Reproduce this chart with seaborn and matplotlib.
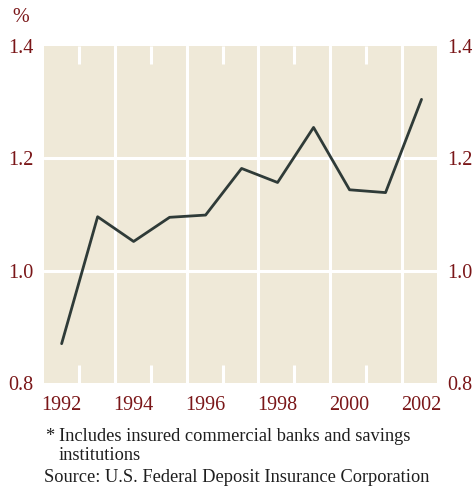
import matplotlib
matplotlib.use("Agg")
import matplotlib.pyplot as plt
import seaborn as sns
import pandas as pd
from matplotlib.ticker import FixedLocator

years = [1992, 1993, 1994, 1995, 1996, 1997, 1998, 1999, 2000, 2001, 2002]
values = [0.870, 1.096, 1.052, 1.095, 1.099, 1.182, 1.157, 1.255, 1.144, 1.139, 1.305]
year_labels = ["1992", "1994", "1996", "1998", "2000", "2002"]
y_ticks = [0.8, 1.0, 1.2, 1.4]
y_tick_labels = ["0.8", "1.0", "1.2", "1.4"]
footnote_mark = "*"
footnote = "Includes insured commercial banks and savings\ninstitutions"
source = "Source: U.S. Federal Deposit Insurance Corporation"

sns.set_style("white")
plt.rcParams["font.family"] = ["Liberation Serif", "DejaVu Serif"]

RED = "#7a1618"
BG = "#efe9d8"
LINE = "#2f3b38"
TXT = "#1e1e1e"

df = pd.DataFrame({"year": years, "value": values})

fig = plt.figure(figsize=(4.74, 4.87), dpi=100)
ax = fig.add_axes([44 / 474, 1 - 383 / 487, (437 - 44) / 474, (383 - 46) / 487])
ax.set_facecolor(BG)

# white grid structure
for v in [1.0, 1.2]:
    ax.axhline(v, color="white", lw=2.2, zorder=1)
for x in [1993.47, 1995.47, 1997.47, 1999.47, 2001.47]:
    ax.axvline(x, color="white", lw=2.2, zorder=1)

sns.lineplot(data=df, x="year", y="value", ax=ax, color=LINE, lw=2.0, zorder=3)

ax.set_xlim(1991.51, 2002.43)
ax.set_ylim(0.8, 1.4)
ax.set_xlabel("")
ax.set_ylabel("")

ax.xaxis.set_major_locator(FixedLocator([int(y) for y in year_labels]))
ax.set_xticklabels(year_labels)
ax.xaxis.set_minor_locator(FixedLocator([1992.47, 1994.47, 1996.47, 1998.47, 2000.47]))
ax.tick_params(axis="x", which="major", length=0, pad=9, labelsize=14.5, labelcolor=RED)
ax.tick_params(axis="x", which="minor", direction="in", length=13, width=2.2,
               color="white", top=True, bottom=True)

ax.set_yticks(y_ticks)
ax.set_yticklabels(y_tick_labels)
ax.tick_params(axis="y", which="major", length=0, pad=7.5, labelsize=14.5, labelcolor=RED,
               left=True, right=True, labelleft=True, labelright=True)

for s in ax.spines.values():
    s.set_visible(False)

fig.text(21 / 474, 1 - 17 / 487, "%", color=RED, fontsize=14.5, ha="center", va="center")
fig.text(45 / 474, 1 - 428 / 487, footnote_mark, color=TXT, fontsize=13.2,
         ha="left", va="top")
fig.text(59 / 474, 1 - 428 / 487, footnote, color=TXT, fontsize=13.2,
         ha="left", va="top", linespacing=1.13)
fig.text(44 / 474, 1 - 477 / 487, source, color=TXT, fontsize=13.2,
         ha="left", va="center")

fig.savefig("out.png", dpi=100)
